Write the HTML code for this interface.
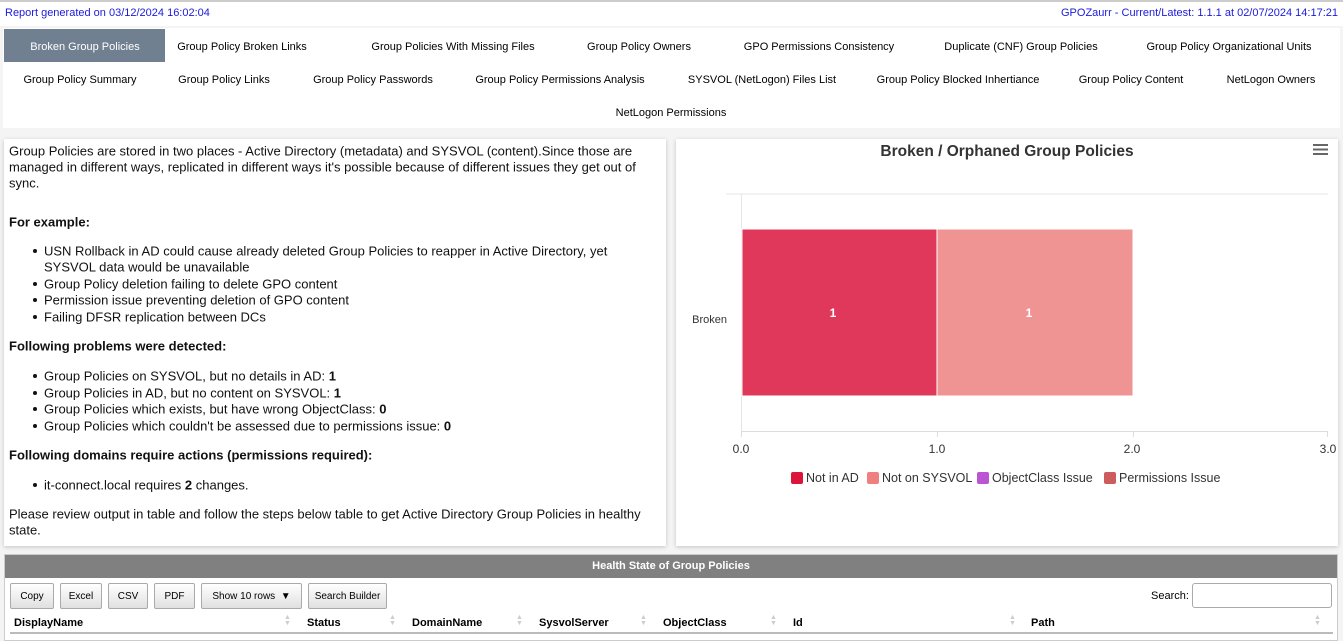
<!DOCTYPE html>
<html><head><meta charset="utf-8"><style>
*{margin:0;padding:0;box-sizing:border-box}
body{width:1343px;height:641px;overflow:hidden;background:#f4f4f4;font-family:"Liberation Sans",Arial,sans-serif;position:relative}
.a{position:absolute;white-space:nowrap}
.t{position:absolute;font-size:11px;color:#000;transform:translate(-50%,-50%);white-space:nowrap}
.l{position:absolute;font-size:13px;color:#111;transform:translateY(-50%);white-space:nowrap}
.b{font-weight:bold}
.dot{position:absolute;width:4px;height:4px;border-radius:2px;background:#111}
.btn{position:absolute;top:583px;height:26px;border:1px solid #aaa;border-radius:2px;background:linear-gradient(#fff,#e0e0e0);font-size:10px;display:flex;align-items:center;justify-content:center}
.th{position:absolute;top:617px;font-size:11px;font-weight:bold}
.ar{position:absolute;top:615px;font-size:7px;color:#ccc;line-height:6px}
</style></head><body>
<div class="a" style="left:0;top:0;width:1343px;height:2px;background:#ccc"></div>
<div class="a" style="left:0;top:2px;width:1343px;height:24px;background:#fff"></div>
<div class="a" style="left:5px;top:7px;font-size:11px;color:#1a1adc">Report generated on 03/12/2024 16:02:04</div>
<div class="a" style="right:5px;top:7px;font-size:11px;color:#1a1adc">GPOZaurr - Current/Latest: 1.1.1 at 02/07/2024 14:17:21</div>
<div class="a" style="left:3px;top:28px;width:1337px;height:100px;background:#fff"></div>
<div class="a" style="left:4px;top:29px;width:161px;height:33px;background:#708090"></div>
<div class="t" style="left:85px;top:47px;color:#fff">Broken Group Policies</div>
<div class="t" style="left:242px;top:47px">Group Policy Broken Links</div>
<div class="t" style="left:453px;top:47px">Group Policies With Missing Files</div>
<div class="t" style="left:639px;top:47px">Group Policy Owners</div>
<div class="t" style="left:819px;top:47px">GPO Permissions Consistency</div>
<div class="t" style="left:1021px;top:47px">Duplicate (CNF) Group Policies</div>
<div class="t" style="left:1229px;top:47px">Group Policy Organizational Units</div>
<div class="t" style="left:80px;top:80px">Group Policy Summary</div>
<div class="t" style="left:224px;top:80px">Group Policy Links</div>
<div class="t" style="left:373px;top:80px">Group Policy Passwords</div>
<div class="t" style="left:560px;top:80px">Group Policy Permissions Analysis</div>
<div class="t" style="left:762px;top:80px">SYSVOL (NetLogon) Files List</div>
<div class="t" style="left:958px;top:80px">Group Policy Blocked Inhertiance</div>
<div class="t" style="left:1131px;top:80px">Group Policy Content</div>
<div class="t" style="left:1271px;top:80px">NetLogon Owners</div>
<div class="t" style="left:671px;top:113px">NetLogon Permissions</div>

<div class="a" style="left:4px;top:139px;width:662px;height:407px;background:#fff;box-shadow:0 1px 4px rgba(0,0,0,.2)"></div>
<div class="l" style="left:9px;top:151px">Group Policies are stored in two places - Active Directory (metadata) and SYSVOL (content).Since those are</div>
<div class="l" style="left:9px;top:167px">managed in different ways, replicated in different ways it's possible because of different issues they get out of</div>
<div class="l" style="left:9px;top:183px">sync.</div>
<div class="l b" style="left:9px;top:222px">For example:</div>
<div class="dot" style="left:33px;top:249px"></div><div class="l" style="left:44px;top:251px">USN Rollback in AD could cause already deleted Group Policies to reapper in Active Directory, yet</div>
<div class="l" style="left:44px;top:267px">SYSVOL data would be unavailable</div>
<div class="dot" style="left:33px;top:282px"></div><div class="l" style="left:44px;top:284px">Group Policy deletion failing to delete GPO content</div>
<div class="dot" style="left:33px;top:298px"></div><div class="l" style="left:44px;top:300px">Permission issue preventing deletion of GPO content</div>
<div class="dot" style="left:33px;top:315px"></div><div class="l" style="left:44px;top:317px">Failing DFSR replication between DCs</div>
<div class="l b" style="left:9px;top:346px">Following problems were detected:</div>
<div class="dot" style="left:33px;top:374px"></div><div class="l" style="left:44px;top:376px">Group Policies on SYSVOL, but no details in AD: <b>1</b></div>
<div class="dot" style="left:33px;top:391px"></div><div class="l" style="left:44px;top:393px">Group Policies in AD, but no content on SYSVOL: <b>1</b></div>
<div class="dot" style="left:33px;top:407px"></div><div class="l" style="left:44px;top:409px">Group Policies which exists, but have wrong ObjectClass: <b>0</b></div>
<div class="dot" style="left:33px;top:424px"></div><div class="l" style="left:44px;top:426px">Group Policies which couldn't be assessed due to permissions issue: <b>0</b></div>
<div class="l b" style="left:9px;top:455px">Following domains require actions (permissions required):</div>
<div class="dot" style="left:33px;top:483px"></div><div class="l" style="left:44px;top:485px">it-connect.local requires <b>2</b> changes.</div>
<div class="l" style="left:9px;top:514px">Please review output in table and follow the steps below table to get Active Directory Group Policies in healthy</div>
<div class="l" style="left:9px;top:530px">state.</div>

<div class="a" style="left:676px;top:139px;width:662px;height:407px;background:#fff;box-shadow:0 1px 4px rgba(0,0,0,.2)"></div>
<svg class="a" style="left:0;top:0" width="1343" height="641">
<text x="1007" y="156" text-anchor="middle" font-family="Liberation Sans" font-size="15.5" font-weight="bold" fill="#333">Broken / Orphaned Group Policies</text>
<g stroke="#666" stroke-width="2"><line x1="1313" y1="145" x2="1328" y2="145"/><line x1="1313" y1="149.5" x2="1328" y2="149.5"/><line x1="1313" y1="154" x2="1328" y2="154"/></g>
<line x1="726" y1="194" x2="1328" y2="194" stroke="#e6e6e6"/>
<line x1="741.5" y1="194" x2="741.5" y2="432" stroke="#e6e6e6"/>
<line x1="741" y1="431.5" x2="1328" y2="431.5" stroke="#ddd"/>
<g stroke="#ddd"><line x1="741.5" y1="431" x2="741.5" y2="437"/><line x1="937.5" y1="431" x2="937.5" y2="437"/><line x1="1133.5" y1="431" x2="1133.5" y2="437"/><line x1="1327.5" y1="431" x2="1327.5" y2="437"/></g>
<rect x="742" y="229" width="195" height="167" fill="#e0385a" stroke="#fff" stroke-width="1"/>
<rect x="937" y="229" width="196" height="167" fill="#f09393" stroke="#fff" stroke-width="1"/>
<text x="833" y="317" text-anchor="middle" font-family="Liberation Sans" font-size="12" font-weight="bold" fill="#fff">1</text>
<text x="1029" y="317" text-anchor="middle" font-family="Liberation Sans" font-size="12" font-weight="bold" fill="#fff">1</text>
<text x="727" y="323" text-anchor="end" font-family="Liberation Sans" font-size="11" fill="#333">Broken</text>
<g font-family="Liberation Sans" font-size="12" fill="#333" text-anchor="middle">
<text x="741" y="453">0.0</text><text x="937" y="453">1.0</text><text x="1132" y="453">2.0</text><text x="1328" y="453">3.0</text></g>
<g font-family="Liberation Sans" font-size="12.5" fill="#333">
<rect x="791" y="472" width="12" height="12" rx="2" fill="#dc143c"/><text x="806" y="482">Not in AD</text>
<rect x="867" y="472" width="12" height="12" rx="2" fill="#f08080"/><text x="882" y="482">Not on SYSVOL</text>
<rect x="977" y="472" width="12" height="12" rx="2" fill="#ba55d3"/><text x="992" y="482">ObjectClass Issue</text>
<rect x="1104" y="472" width="12" height="12" rx="2" fill="#cd5c5c"/><text x="1119" y="482">Permissions Issue</text></g>
</svg>

<div class="a" style="left:4px;top:554px;width:1334px;height:87px;background:#fff;border:1px solid #ccc"></div>
<div class="a" style="left:5px;top:555px;width:1332px;height:23px;background:#808080;color:#fff;font-size:11px;font-weight:bold;text-align:center;line-height:23px">Health State of Group Policies</div>
<div class="btn" style="left:10px;width:44px">Copy</div>
<div class="btn" style="left:60px;width:42px">Excel</div>
<div class="btn" style="left:108px;width:40px">CSV</div>
<div class="btn" style="left:154px;width:41px">PDF</div>
<div class="btn" style="left:201px;width:101px">Show 10 rows &nbsp;▼</div>
<div class="btn" style="left:308px;width:79px">Search Builder</div>
<div class="a" style="left:1151px;top:590px;font-size:11px">Search:</div>
<div class="a" style="left:1192px;top:583px;width:140px;height:25px;border:1px solid #aaa;border-radius:3px;background:#fff"></div>
<div class="th" style="left:14px">DisplayName</div>
<div class="th" style="left:307px">Status</div>
<div class="th" style="left:412px">DomainName</div>
<div class="th" style="left:539px">SysvolServer</div>
<div class="th" style="left:663px">ObjectClass</div>
<div class="th" style="left:793px">Id</div>
<div class="th" style="left:1031px">Path</div>
<div class="ar" style="left:284px">▲<br>▼</div><div class="ar" style="left:389px">▲<br>▼</div><div class="ar" style="left:516px">▲<br>▼</div><div class="ar" style="left:640px">▲<br>▼</div><div class="ar" style="left:770px">▲<br>▼</div><div class="ar" style="left:1009px">▲<br>▼</div><div class="ar" style="left:1314px">▲<br>▼</div>
<div class="a" style="left:10px;top:632px;width:1323px;height:2px;background:#bbb"></div>
</body></html>
